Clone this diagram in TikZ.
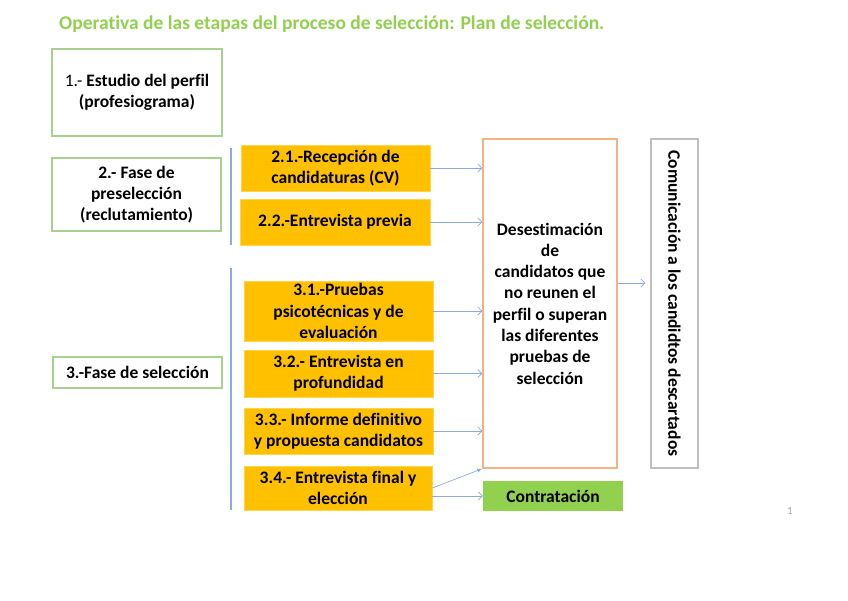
\documentclass[tikz,border=0pt]{standalone}
\usepackage{fontspec}
\setmainfont{Carlito}[Ligatures=NoCommon]
\usetikzlibrary{arrows.meta}
\definecolor{titlegreen}{HTML}{92D050}
\definecolor{boxgreen}{HTML}{A9D18E}
\definecolor{fillorange}{HTML}{FFC000}
\definecolor{edgeorange}{HTML}{F4B183}
\definecolor{edgegray}{HTML}{BFBFBF}
\definecolor{arrowblue}{HTML}{8FAADC}
\definecolor{pagegray}{HTML}{A6A6A6}
\tikzset{
  txt/.style={font=\fontsize{17.5}{21.3}\selectfont\bfseries, align=center, inner sep=0pt},
  greenbox/.style={txt, draw=boxgreen, line width=1.4pt, fill=white},
  orangebox/.style={txt, fill=fillorange, draw=fillorange!70!white, line width=0.6pt},
  desbox/.style={txt, draw=edgeorange, line width=1.4pt},
  combox/.style={txt, draw=edgegray, line width=1.4pt},
  contrbox/.style={txt, fill=titlegreen},
  bar/.style={draw=arrowblue, line width=1.2pt},
  arr/.style={draw=arrowblue, line width=0.7pt, -{Straight Barb[length=4pt,width=8pt]}},
  arrfill/.style={draw=arrowblue, line width=0.7pt, -{Latex[length=5pt,width=4pt]}}
}
\begin{document}
\begin{tikzpicture}[x=1pt,y=-1pt]
\useasboundingbox (0,0) rectangle (848,600);
\fill[white] (0,0) rectangle (848,600);

\node[anchor=west, text=titlegreen, font=\fontsize{19.5}{23}\selectfont\bfseries, inner sep=0pt] (title) at (59,24) {Operativa de las etapas del proceso de selección: Plan de selección.};

\node[greenbox, minimum width=170pt, minimum height=87pt] (b1) at (137,92.5) {{\mdseries 1.-} Estudio del perfil\\(profesiograma)};
\node[greenbox, minimum width=169pt, minimum height=73pt] (b2) at (136.5,194.5) {2.- Fase de\\preselección\\(reclutamiento)};
\node[greenbox, minimum width=169pt, minimum height=31pt] (b3) at (137.5,372.5) {3.-Fase de selección};

\coordinate (l1a) at (231,148);
\coordinate (l1b) at (231,245);
\coordinate (l2a) at (231,268);
\coordinate (l2b) at (231,510);
\draw[bar] (l1a) -- (l1b);
\draw[bar] (l2a) -- (l2b);

\node[orangebox, minimum width=189pt, minimum height=46pt] (b21) at (335.5,168) {2.1.-Recepción de\\candidaturas (CV)};
\node[orangebox, minimum width=190pt, minimum height=46pt] (b22) at (335,222) {2.2.-Entrevista previa};
\node[orangebox, minimum width=189pt, minimum height=60pt] (b31) at (338.5,311) {3.1.-Pruebas\\psicotécnicas y de\\evaluación};
\node[orangebox, minimum width=189pt, minimum height=47pt] (b32) at (338.5,373.5) {3.2.- Entrevista en\\profundidad};
\node[orangebox, minimum width=189pt, minimum height=46pt] (b33) at (338.5,431) {3.3.- Informe definitivo\\y propuesta candidatos};
\node[orangebox, minimum width=188pt, minimum height=44pt] (b34) at (338,488) {3.4.- Entrevista final y\\elección};

\node[desbox, minimum width=134pt, minimum height=329pt] (des) at (550,303.5) {Desestimación\\de\\candidatos que\\no reunen el\\perfil o superan\\las diferentes\\pruebas de\\selección};
\node[contrbox, minimum width=140pt, minimum height=30pt] (contr) at (553,496) {Contratación};
\node[combox, minimum width=47pt, minimum height=329pt] (com) at (674.5,303.5) {};
\node[txt, rotate=-90] (comtxt) at (com.center) {Comunicación a los candidtos descartados};

\draw[arr] (b21.east) -- (des.west |- b21.east);
\draw[arr] (b22.east) -- (des.west |- b22.east);
\draw[arr] (b31.east) -- (des.west |- b31.east);
\draw[arr] (b32.east) -- (des.west |- b32.east);
\draw[arr] (b33.east) -- (des.west |- b33.east);
\draw[arrfill] (b34.east) -- (des.south west);
\draw[arr] (b34.east |- contr.west) -- (contr.west);
\draw[arr, shorten >=5pt] (des.east |- 0,283) -- (com.west |- 0,283);

\node[text=pagegray, font=\fontsize{11}{12}\selectfont, inner sep=0pt] (pg) at (790,511) {1};
\end{tikzpicture}
\end{document}
